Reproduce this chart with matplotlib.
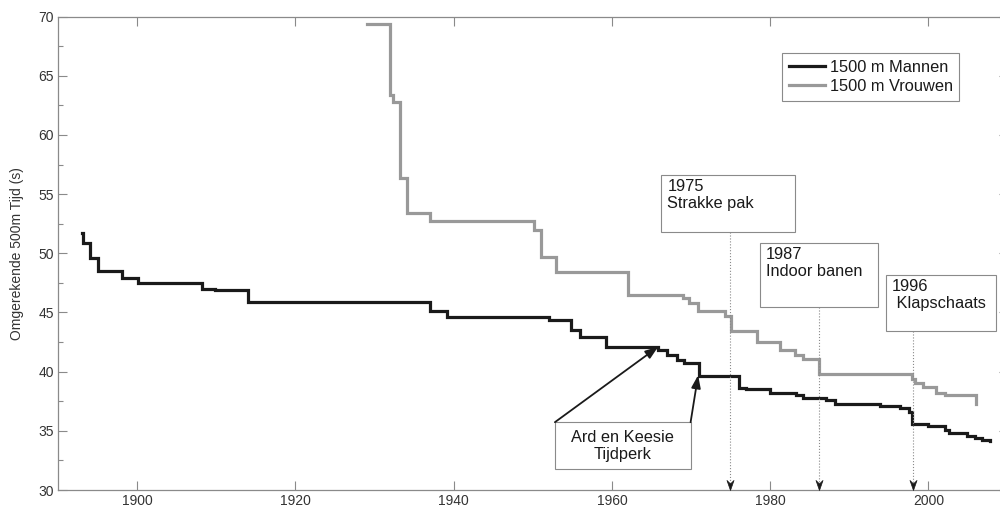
import numpy as np
import matplotlib
matplotlib.use("Agg")
import matplotlib.pyplot as plt
from matplotlib.path import Path
from matplotlib.patches import Rectangle
from matplotlib.ticker import MultipleLocator

plt.rcParams['font.family'] = ['Liberation Sans', 'DejaVu Sans']

# wereldrecords 1500 m, omgerekend naar 500 m tijd (s)
men_years = [1893.0, 1893.1, 1894.1, 1895.1, 1898.1, 1900.1, 1908.2, 1909.9, 1914.0,
             1937.0, 1939.1, 1952.1, 1954.8, 1956.0, 1959.2, 1965.8, 1967.0, 1968.2,
             1969.1, 1971.0, 1976.1, 1977.0, 1980.0, 1983.3, 1984.1, 1987.1, 1988.2,
             1993.9, 1996.4, 1997.5, 1997.9, 2000.0, 2002.1, 2002.6, 2004.9, 2005.9,
             2006.8, 2007.8]
men_times = [51.7, 50.9, 49.6, 48.5, 47.9, 47.5, 47.0, 46.9, 45.9,
             45.1, 44.6, 44.4, 43.5, 42.9, 42.1, 41.8, 41.4, 41.0,
             40.7, 39.6, 38.6, 38.5, 38.2, 38.0, 37.8, 37.6, 37.3,
             37.1, 36.9, 36.6, 35.6, 35.4, 35.1, 34.8, 34.6, 34.4,
             34.2, 34.1]

women_years = [1929.1, 1932.0, 1932.3, 1933.2, 1934.1, 1937.0, 1950.1, 1951.0, 1953.0,
               1962.1, 1969.0, 1969.8, 1970.9, 1974.3, 1975.0, 1978.3, 1981.2, 1983.1,
               1984.2, 1986.2, 1997.9, 1998.3, 1999.3, 2001.0, 2002.1, 2006.0]
women_times = [69.4, 63.4, 62.8, 56.4, 53.4, 52.7, 52.0, 49.7, 48.4,
               46.5, 46.2, 45.8, 45.1, 44.7, 43.4, 42.5, 41.8, 41.4,
               41.1, 39.8, 39.4, 39.0, 38.7, 38.2, 38.0, 37.3]

# gebeurtenissen (tekst, jaar van de pijl, kader x0, x1, y0, y1)
event_labels = ['1975\nStrakke pak', '1987\nIndoor banen', '1996\n Klapschaats']
event_arrow_x = [1974.9, 1986.2, 1998.1]
event_box_x0 = [1966.2, 1978.7, 1994.6]
event_box_x1 = [1983.1, 1993.6, 2008.5]
event_box_y0 = [51.8, 45.5, 43.4]
event_box_y1 = [56.6, 50.85, 48.2]

ard_label = 'Ard en Keesie\nTijdperk'
ard_box = [1952.8, 1969.95, 31.76, 35.73]
ard_targets = [(1965.85, 42.1), (1970.9, 39.7)]

grey = '#8a8a8a'
txt_col = '#333333'

fig = plt.figure(figsize=(10, 5.08), dpi=100)
ax = fig.add_axes([0.058, 0.0354, 0.9495, 0.932])

ax.step(men_years, men_times, where='post', color='#1a1a1a', lw=2.3,
        label='1500 m Mannen', solid_joinstyle='miter')
ax.step(women_years, women_times, where='post', color='#999999', lw=2.3,
        label='1500 m Vrouwen', solid_joinstyle='miter')

ax.set_xlim(1890, 2010)
ax.set_ylim(30, 70)
ax.yaxis.set_major_locator(MultipleLocator(5))
ax.yaxis.set_minor_locator(MultipleLocator(2.5))
ax.set_xticks(np.arange(1900, 2001, 20))
ax.tick_params(which='both', direction='in', top=True, right=True,
               color=grey, labelcolor=txt_col, labelsize=10, pad=3)
ax.tick_params(which='major', length=6.5, width=0.8)
ax.tick_params(which='minor', length=3.8, width=0.8)
for sp in ax.spines.values():
    sp.set_color(grey)
    sp.set_linewidth(0.9)

ax.set_ylabel('Omgerekende 500m Tijd (s)', fontsize=10, color=txt_col)
ax.yaxis.set_label_coords(-0.036, 0.5)

leg = ax.legend(loc='upper left', bbox_to_anchor=(0.7628, 0.9223), borderaxespad=0,
                fancybox=False, edgecolor=grey, fontsize=11.8, handlelength=2.2,
                handletextpad=0.3, labelspacing=0.25, borderpad=0.4, framealpha=1)
leg.get_frame().set_linewidth(0.8)
for t in leg.get_texts():
    t.set_color('#1a1a1a')

# pijlpunt (ingekeept, punt in de oorsprong)
head = Path([(0, 0), (-0.35, 1), (0, 0.65), (0.35, 1), (0, 0)],
            [Path.MOVETO, Path.LINETO, Path.LINETO, Path.LINETO, Path.CLOSEPOLY])

for lab, xa, x0, x1, y0, y1 in zip(event_labels, event_arrow_x, event_box_x0,
                                    event_box_x1, event_box_y0, event_box_y1):
    ax.add_patch(Rectangle((x0, y0), x1 - x0, y1 - y0, fill=True, facecolor='white',
                           edgecolor=grey, lw=0.8, zorder=4, clip_on=False))
    ax.text(x0 + 0.8, y1 - 0.35, lab, ha='left', va='top', fontsize=11.8,
            color='#1a1a1a', linespacing=1.15, zorder=5, clip_on=False)
    ax.plot([xa, xa], [y0, 30.6], ls=':', color=grey, lw=0.8, zorder=3)
    ax.plot([xa], [30], marker=head, ms=14.5, color='#1a1a1a', mec='#1a1a1a',
            mew=0.5, zorder=6, clip_on=False)

ax.add_patch(Rectangle((ard_box[0], ard_box[2]), ard_box[1] - ard_box[0],
                       ard_box[3] - ard_box[2], facecolor='white', edgecolor=grey,
                       lw=0.8, zorder=4))
ax.text((ard_box[0] + ard_box[1]) / 2, (ard_box[2] + ard_box[3]) / 2, ard_label,
        ha='center', va='center', fontsize=11.8, color='#1a1a1a',
        linespacing=1.15, zorder=5)
for (tx, ty), sx in zip(ard_targets, [ard_box[0], ard_box[1]]):
    ax.annotate('', xy=(tx, ty), xytext=(sx, ard_box[3]),
                arrowprops=dict(arrowstyle='-|>,head_length=0.55,head_width=0.2',
                                color='#1a1a1a', lw=1.3, mutation_scale=14,
                                shrinkA=0, shrinkB=0), zorder=6)

fig.savefig('out.png', dpi=100)
